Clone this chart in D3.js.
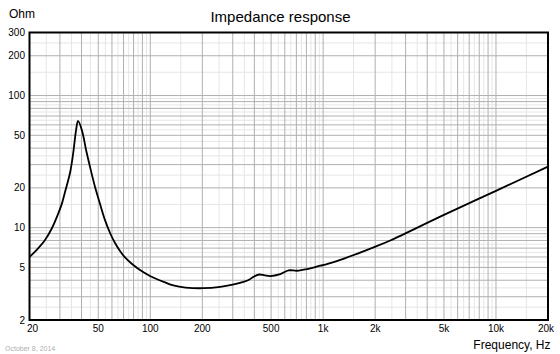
<!DOCTYPE html>
<html><head><meta charset="utf-8">
<script src="https://cdn.jsdelivr.net/npm/d3@7"></script>
<style>html,body{margin:0;padding:0;background:#fff;}svg{display:block;font-family:"Liberation Sans",Arial,sans-serif;}</style>
</head><body><svg id="c" width="560" height="354"></svg>
<script>
const freqs = [20, 22.1, 24.6, 27.0, 29.4, 30.8, 32.1, 34.3, 35.8, 37.2, 38.2, 40.3, 42.5, 44.8, 47.9, 51.2, 54.7, 58.5, 62.5, 66.8, 71.4, 78.4, 87.2, 99.6, 121.6, 136, 160, 203, 254, 300, 346, 375, 396, 428, 460, 494, 565, 631, 705, 806, 962, 1030, 1257, 1958, 2445, 5000, 10000, 20000];
const impedance = [6.0, 6.83, 8.07, 9.94, 12.9, 15.2, 18.6, 25.9, 36.7, 54.8, 64.2, 53.9, 38.7, 28.8, 20.3, 15.1, 11.4, 9.11, 7.65, 6.66, 5.95, 5.31, 4.78, 4.31, 3.85, 3.65, 3.52, 3.48, 3.56, 3.7, 3.88, 4.05, 4.25, 4.42, 4.35, 4.3, 4.45, 4.75, 4.72, 4.85, 5.15, 5.25, 5.7, 7.1, 8.0, 12.5, 19.0, 29.0];
const xTickValues = [20, 50, 100, 200, 500, 1000, 2000, 5000, 10000, 20000];
const xTickLabels = ["20", "50", "100", "200", "500", "1k", "2k", "5k", "10k", "20k"];
const yTickValues = [2, 5, 10, 20, 50, 100, 200, 300];
const yTickLabels = ["2", "5", "10", "20", "50", "100", "200", "300"];
const title = "Impedance response";
const yUnit = "Ohm";
const xUnit = "Frequency, Hz";
const dateText = "October 8, 2014";

const L = 29.5, R = 548, T = 32.5, B = 320;
const svg = d3.select("#c");
const x = d3.scaleLog().domain([20, 20000]).range([L, R]);
const y = d3.scaleLog().domain([2, 300]).range([B, T]);

// grid values
const xMajor = [], xMinor = [];
[10, 100, 1000, 10000].forEach(dec => {
  for (let d = 1; d <= 9; d++) {
    const v = d * dec;
    if (v >= 20 && v <= 20000) xMajor.push(v);
    const m = (d + 0.5) * dec;
    if (m > 20 && m < 20000) xMinor.push(m);
  }
});
xMajor.push(20000);
const yMajor = [], yMinor = [];
[1, 10, 100].forEach(dec => {
  for (let d = 1; d <= 9; d++) {
    const v = d * dec;
    if (v >= 2 && v <= 300) yMajor.push(v);
    const m = (d + 0.5) * dec;
    if (m > 2 && m < 300) yMinor.push(m);
  }
});

const g = svg.append("g");
g.selectAll(".vxm").data(xMinor).join("line")
  .attr("x1", d => x(d)).attr("x2", d => x(d)).attr("y1", T).attr("y2", B)
  .attr("stroke", "#e6e6e6").attr("stroke-width", 1);
g.selectAll(".hym").data(yMinor).join("line")
  .attr("y1", d => y(d)).attr("y2", d => y(d)).attr("x1", L).attr("x2", R)
  .attr("stroke", "#e6e6e6").attr("stroke-width", 1);
g.selectAll(".vxM").data(xMajor).join("line")
  .attr("x1", d => x(d)).attr("x2", d => x(d)).attr("y1", T).attr("y2", B)
  .attr("stroke", "#b0b0b0").attr("stroke-width", 1);
g.selectAll(".hyM").data(yMajor).join("line")
  .attr("y1", d => y(d)).attr("y2", d => y(d)).attr("x1", L).attr("x2", R)
  .attr("stroke", "#b0b0b0").attr("stroke-width", 1);

// curve
const pts = freqs.map((f, i) => [f, impedance[i]]);
svg.append("path").datum(pts)
  .attr("d", d3.line().x(d => x(d[0])).y(d => y(d[1])).curve(d3.curveCatmullRom.alpha(0.5)))
  .attr("fill", "none").attr("stroke", "#000").attr("stroke-width", 1.8)
  .attr("stroke-linejoin", "round");

// frame
svg.append("rect").attr("x", L).attr("y", T).attr("width", R - L).attr("height", B - T)
  .attr("fill", "none").attr("stroke", "#000").attr("stroke-width", 2);

// axes labels
svg.selectAll(".xl").data(xTickValues).join("text")
  .attr("x", (d, i) => x(d) + (i === 0 ? 3 : (i === xTickValues.length - 1 ? -2 : 0)))
  .attr("y", 332).attr("text-anchor", "middle").attr("font-size", 10).attr("fill", "#000")
  .text((d, i) => xTickLabels[i]);
svg.selectAll(".yl").data(yTickValues).join("text")
  .attr("x", 25).attr("y", d => y(d) + 3.5).attr("text-anchor", "end")
  .attr("font-size", 10).attr("fill", "#000")
  .text((d, i) => yTickLabels[i]);

svg.append("text").attr("x", 280.5).attr("y", 22).attr("text-anchor", "middle")
  .attr("font-size", 15).attr("fill", "#000").text(title);
svg.append("text").attr("x", 9).attr("y", 17.5).attr("font-size", 12).attr("fill", "#000").text(yUnit);
svg.append("text").attr("x", 550.5).attr("y", 349).attr("text-anchor", "end")
  .attr("font-size", 12).attr("fill", "#000").text(xUnit);
svg.append("text").attr("x", 5).attr("y", 351).attr("font-size", 7).attr("fill", "#b0b0b0").text(dateText);
</script>
</body></html>
